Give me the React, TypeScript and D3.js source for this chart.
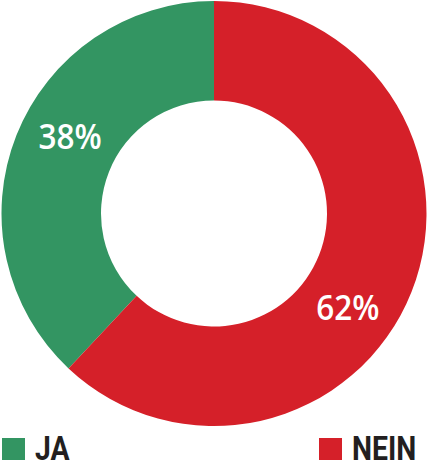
import * as d3 from "d3";

const categories = ["JA", "NEIN"];
const shares = [38, 62];
const colors = ["#339562", "#d52029"];
// label placement, degrees past each slice's middle
const labelOffsetDeg = [6.7, 13.4];

const width = 428;
const height = 462;
const cx = 214;
const cy = 213.5;
const outerR = 212.5;
const innerR = 113;
const labelR = 163.5;

type Row = { label: string; value: number; color: string; offset: number };

export default function App() {
  const rows: Row[] = categories.map((label, i) => ({
    label,
    value: shares[i],
    color: colors[i],
    offset: labelOffsetDeg[i],
  }));
  const total = d3.sum(rows, (d) => d.value);
  const start = -(rows[0].value / total) * 2 * Math.PI;

  const pie = d3
    .pie<Row>()
    .sort(null)
    .value((d) => d.value)
    .startAngle(start)
    .endAngle(start + 2 * Math.PI);
  const arc = d3.arc<d3.PieArcDatum<Row>>().innerRadius(innerR).outerRadius(outerR);
  const slices = pie(rows);

  const legendX = d3.scaleOrdinal<string, number>().domain(categories).range([2, 319]);

  return (
    <svg
      width={width}
      height={height}
      style={{ position: "absolute", left: 0, top: 0 }}
      fontFamily="'Open Sans', 'Noto Sans', sans-serif"
    >
      <g transform={`translate(${cx},${cy})`}>
        {slices.map((s) => (
          <path key={s.data.label} d={arc(s) ?? ""} fill={s.data.color} />
        ))}
        {slices.map((s) => {
          const a = (s.startAngle + s.endAngle) / 2 + (s.data.offset * Math.PI) / 180;
          const x = labelR * Math.sin(a);
          const y = -labelR * Math.cos(a);
          return (
            <text
              key={s.data.label}
              transform={`translate(${x},${y}) scale(0.9,1)`}
              textAnchor="middle"
              dy="0.36em"
              fill="#ffffff"
              fontSize={35}
              fontWeight={600}
            >
              {`${Math.round((s.data.value / total) * 100)}%`}
            </text>
          );
        })}
      </g>
      {rows.map((d) => (
        <g key={d.label} transform={`translate(${legendX(d.label)},438)`}>
          <rect width={23} height={22} fill={d.color} />
          <text
            transform="translate(33,22) scale(0.86,1)"
            fill="#231f20"
            fontFamily="Roboto, 'Open Sans', sans-serif"
            fontSize={33}
            fontWeight={700}
          >
            {d.label}
          </text>
        </g>
      ))}
    </svg>
  );
}
